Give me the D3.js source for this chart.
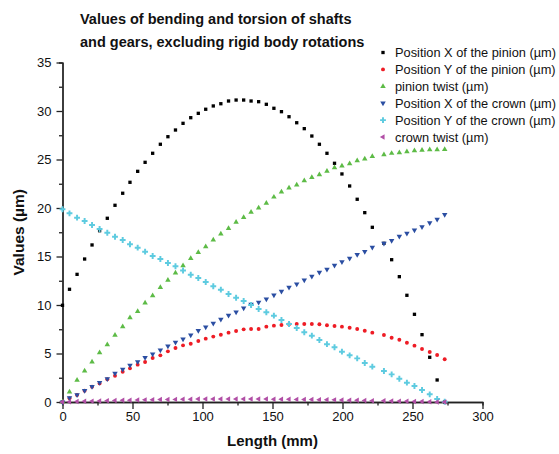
<!DOCTYPE html>
<html>
<head>
<meta charset="utf-8">
<script src="https://cdn.jsdelivr.net/npm/d3@7"></script>
<style>
  body { margin: 0; background: #fff; }
  svg text { font-family: "Liberation Sans", Arial, sans-serif; fill: #111; }
  .axis path, .axis line { stroke: #222; stroke-width: 1.3px; }
  .axis text { font-size: 13px; }
</style>
</head>
<body>
<div id="root"></div>
<script>
// lengths along the shaft (mm) shared by all series
const lengths = [0, 5.0, 10.4, 15.8, 21.1, 26.5, 32.0, 37.5, 43.0, 48.2, 53.7, 59.0, 64.4, 69.9, 75.3, 80.7,
  86.1, 91.6, 97.0, 102.3, 107.7, 113.1, 118.6, 124.0, 129.4, 134.7, 140.1, 145.6, 151.0, 156.4, 161.8,
  167.3, 172.7, 178.1, 183.5, 188.9, 194.3, 199.6, 205.1, 210.5, 215.9, 221.3, 229.6, 235.1, 240.6,
  246.0, 251.4, 256.8, 262.3, 267.6, 273.0]

const pinionX = [9.97, 11.62, 13.16, 14.74, 16.19, 17.66, 18.94, 20.28, 21.52, 22.65, 23.78, 24.71, 25.64,
  26.57, 27.35, 28.04, 28.73, 29.31, 29.76, 30.18, 30.52, 30.75, 31.03, 31.13, 31.13, 31.03, 30.96, 30.69,
  30.28, 29.93, 29.41, 28.79, 28.18, 27.42, 26.57, 25.64, 24.61, 23.51, 22.27, 20.9, 19.52, 18.01, 16.36,
  14.67, 12.92, 11.0, 9.04, 6.94, 4.61, 2.27, 0.0]

const pinionY = [0, 0.38, 0.72, 1.17, 1.58, 1.92, 2.34, 2.71, 3.12, 3.47, 3.85, 4.12, 4.54, 4.81, 5.22, 5.57,
  5.84, 6.01, 6.29, 6.53, 6.74, 6.94, 7.15, 7.32, 7.49, 7.53, 7.53, 7.77, 7.87, 7.94, 8.01, 8.04, 8.04, 8.04,
  8.01, 7.92, 7.84, 7.77, 7.66, 7.53, 7.35, 7.15, 6.91, 6.63, 6.42, 6.11, 5.81, 5.46, 5.15, 4.85, 4.4]

const pinionTwist = [0, 1.03, 2.24, 3.2, 4.12, 5.08, 5.91, 6.88, 7.77, 8.69, 9.35, 10.21, 10.96, 11.82, 12.55,
  13.3, 14.05, 14.81, 15.43, 16.01, 16.7, 17.32, 17.9, 18.53, 19.04, 19.56, 20.0, 20.5, 21.13, 21.65, 22.06,
  22.37, 22.81, 23.16, 23.43, 23.81, 24.15, 24.33, 24.57, 24.88, 25.05, 25.33, 25.5, 25.64, 25.7, 25.8, 25.9,
  25.95, 26.01, 26.01, 26.05]

const crownX = [0, 0.44, 0.75, 1.17, 1.58, 1.99, 2.4, 2.96, 3.37, 3.78, 4.15, 4.57, 4.95, 5.36, 5.77, 6.15,
  6.49, 6.91, 7.35, 7.73, 8.11, 8.53, 8.94, 9.28, 9.69, 10.07, 10.28, 10.62, 11.03, 11.41, 11.82, 12.16, 12.58,
  12.96, 13.37, 13.68, 14.09, 14.46, 14.81, 15.19, 15.5, 15.95, 16.36, 16.63, 17.08, 17.39, 17.73, 18.07,
  18.48, 18.84, 19.31]

const crownY = [19.87, 19.45, 19.0, 18.66, 18.25, 17.84, 17.45, 17.04, 16.7, 16.26, 15.91, 15.5, 15.05, 14.74,
  14.33, 13.99, 13.56, 13.12, 12.78, 12.37, 11.93, 11.58, 11.13, 10.75, 10.41, 10.0, 9.59, 9.25, 8.9, 8.45,
  8.04, 7.63, 7.19, 6.84, 6.39, 5.96, 5.64, 5.19, 4.81, 4.5, 4.02, 3.64, 3.2, 2.85, 2.4, 1.99, 1.65, 1.24,
  0.79, 0.31, 0.03]

const crownTwist = [0, 0.02, 0.04, 0.07, 0.09, 0.11, 0.13, 0.15, 0.17, 0.19, 0.21, 0.22, 0.24, 0.25, 0.26,
  0.27, 0.28, 0.29, 0.3, 0.3, 0.31, 0.31, 0.31, 0.31, 0.31, 0.31, 0.3, 0.3, 0.29, 0.29, 0.28, 0.27, 0.26,
  0.25, 0.24, 0.23, 0.22, 0.2, 0.19, 0.17, 0.16, 0.14, 0.12, 0.1, 0.09, 0.07, 0.05, 0.04, 0.02, 0.01, 0]

const seriesNames = ["Position X of the pinion (\u00b5m)", "Position Y of the pinion (\u00b5m)", "pinion twist (\u00b5m)",
  "Position X of the crown (\u00b5m)", "Position Y of the crown (\u00b5m)", "crown twist (\u00b5m)"]
const seriesValues = [pinionX, pinionY, pinionTwist, crownX, crownY, crownTwist]
const seriesColors = ["#000000", "#ee1c25", "#5dbb46", "#2b4ea2", "#5ecbe0", "#b14fa6"]

const xTicks = [0, 50, 100, 150, 200, 250, 300]
const yTicks = [0, 5, 10, 15, 20, 25, 30, 35]

const W = 559, H = 454
const margin = {left: 62.5, top: 62.5, right: 76.5, bottom: 52}

const svg = d3.select("#root").append("svg").attr("width", W).attr("height", H)

const x = d3.scaleLinear().domain([0, 300]).range([margin.left, W - margin.right])
const y = d3.scaleLinear().domain([0, 35]).range([H - margin.bottom, margin.top])

// marker shapes: square, circle, up, down, cross, left-pointing triangle
const markers = [
  {type: d3.symbolSquare, size: 11, rot: 0},
  {type: d3.symbolCircle, size: 12, rot: 0},
  {type: d3.symbolTriangle, size: 13, rot: 0},
  {type: d3.symbolTriangle, size: 13, rot: 180},
  {type: d3.symbolCross, size: 19, rot: 0},
  {type: d3.symbolTriangle, size: 13, rot: -90}
]

// minor ticks first so major ones sit on top
svg.append("g").attr("class", "axis")
   .attr("transform", `translate(0,${y(0)})`)
   .call(d3.axisBottom(x).tickValues(d3.range(25, 300, 50)).tickSize(3.5).tickFormat(""))
svg.append("g").attr("class", "axis")
   .attr("transform", `translate(${x(0)},0)`)
   .call(d3.axisLeft(y).tickValues(d3.range(2.5, 35, 5)).tickSize(3.5).tickFormat(""))

svg.append("g").attr("class", "axis")
   .attr("transform", `translate(0,${y(0)})`)
   .call(d3.axisBottom(x).tickValues(xTicks).tickSize(7).tickSizeOuter(0).tickPadding(3))
svg.append("g").attr("class", "axis")
   .attr("transform", `translate(${x(0)},0)`)
   .call(d3.axisLeft(y).tickValues(yTicks).tickSize(6).tickSizeOuter(0).tickPadding(5))

// points
seriesValues.forEach((vals, s) => {
  const m = markers[s]
  const sym = d3.symbol().type(m.type).size(m.size)
  svg.append("g")
     .selectAll("path")
     .data(vals.map((v, i) => ({x: lengths[i], y: v})))
     .join("path")
     .attr("d", sym)
     .attr("fill", seriesColors[s])
     .attr("transform", d => `translate(${x(d.x)},${y(d.y)}) rotate(${m.rot})`)
})

// title
const title = svg.append("text")
   .style("font-size", "14.5px").style("font-weight", "bold")
title.append("tspan").attr("x", 80).attr("y", 24).text("Values of bending and torsion of shafts")
title.append("tspan").attr("x", 80).attr("y", 47).text("and gears, excluding rigid body rotations")

// axis titles
svg.append("text")
   .attr("x", x(150)).attr("y", 446)
   .attr("text-anchor", "middle")
   .style("font-size", "15px").style("font-weight", "bold")
   .text("Length (mm)")
svg.append("text")
   .attr("transform", `translate(24,${y(17.5)}) rotate(-90)`)
   .attr("text-anchor", "middle")
   .style("font-size", "15.5px").style("font-weight", "bold")
   .text("Values (\u00b5m)")

// legend
const legend = svg.append("g")
seriesNames.forEach((name, s) => {
  const m = markers[s]
  const ly = 52.5 + s * 16.9
  legend.append("path")
     .attr("d", d3.symbol().type(m.type).size(m.size)())
     .attr("fill", seriesColors[s])
     .attr("transform", `translate(383,${ly}) rotate(${m.rot})`)
  legend.append("text")
     .attr("x", 395).attr("y", ly + 4.5)
     .style("font-size", "12.8px")
     .text(name)
})
</script>
</body>
</html>
